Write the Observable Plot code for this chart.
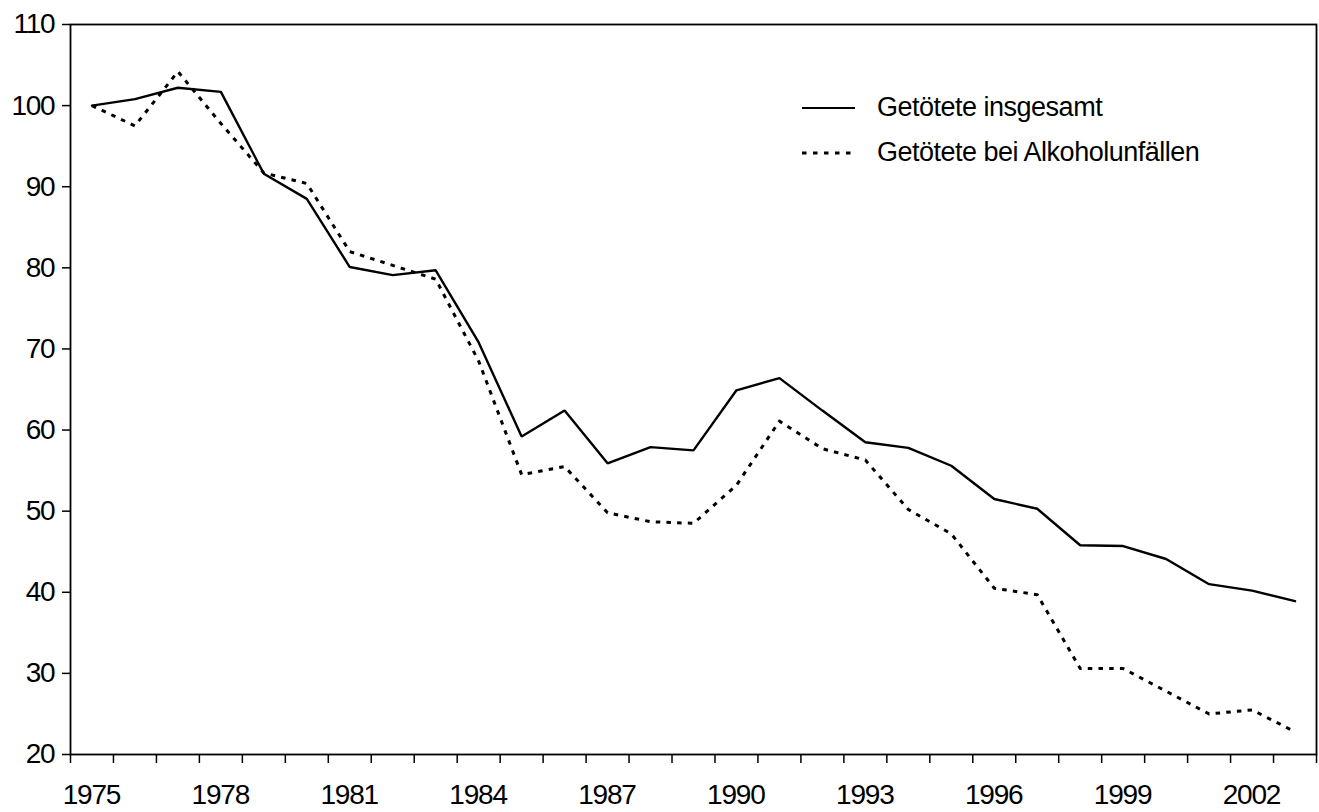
<!DOCTYPE html>
<html><head><meta charset="utf-8">
<script src="https://cdn.jsdelivr.net/npm/d3@7"></script>
<script src="https://cdn.jsdelivr.net/npm/@observablehq/plot@0.6"></script>
<style>
html,body{margin:0;padding:0;background:#fff;}
#wrap{position:relative;width:1319px;height:812px;font-family:"Liberation Sans",Arial,sans-serif;color:#000;}
#wrap svg text{letter-spacing:-1.2px;}
.legend{position:absolute;left:802px;top:85px;font-size:27px;letter-spacing:-0.5px;line-height:45px;}
.legend .row{display:flex;align-items:center;height:45px;white-space:nowrap;}
.legend svg{width:75px;height:10px;flex:none;}
</style></head><body><div id="wrap"></div>
<script>
const years = [1975,1976,1977,1978,1979,1980,1981,1982,1983,1984,1985,1986,1987,1988,1989,1990,1991,1992,1993,1994,1995,1996,1997,1998,1999,2000,2001,2002,2003];
const totalKilled = [100,100.8,102.2,101.7,91.6,88.5,80.1,79.1,79.7,70.8,59.2,62.4,55.9,57.9,57.5,64.9,66.4,62.4,58.5,57.8,55.6,51.5,50.3,45.8,45.7,44.1,41.0,40.2,38.9];
const alcoholKilled = [100,97.5,104.2,97.8,91.7,90.4,82.0,80.3,78.6,68.5,54.5,55.5,49.8,48.7,48.5,53.2,61.1,57.7,56.3,50.2,47.2,40.5,39.7,30.6,30.6,27.8,25.0,25.5,22.8];
const seriesNames = ["Getötete insgesamt","Getötete bei Alkoholunfällen"];
const yTicks = [20,30,40,50,60,70,80,90,100,110];
const xLabelYears = [1975,1978,1981,1984,1987,1990,1993,1996,1999,2002];

const rows = [];
years.forEach((yr,i)=>{
  rows.push({year:yr, value:totalKilled[i], series:seriesNames[0]});
  rows.push({year:yr, value:alcoholKilled[i], series:seriesNames[1]});
});
const boundaries = years.map(y=>y-0.5).concat([years[years.length-1]+0.5]);

const chart = Plot.plot({
  width:1319, height:812,
  marginLeft:70, marginTop:24, marginRight:3, marginBottom:58,
  style:{fontFamily:'"Liberation Sans",Arial,sans-serif', fontSize:"28px", background:"white", color:"black", overflow:"visible"},
  x:{type:"linear", domain:[years[0]-0.5, years[years.length-1]+0.5]},
  y:{domain:[20,110]},
  marks:[
    Plot.axisY({ticks:yTicks, tickSize:8, tickPadding:8, tickFormat:d=>String(d), strokeWidth:1.5, label:null, fontSize:28}),
    Plot.axisX({ticks:boundaries, tickSize:9, text:null, strokeWidth:1.5, label:null}),
    Plot.axisX({ticks:xLabelYears, tickSize:0, tickPadding:30, tickFormat:d=>String(d), label:null, fontSize:28, dx:-0.6}),
    Plot.line(rows.filter(d=>d.series===seriesNames[0]), {x:"year", y:"value", stroke:"black", strokeWidth:2.4, strokeLinejoin:"miter"}),
    Plot.line(rows.filter(d=>d.series===seriesNames[1]), {x:"year", y:"value", stroke:"black", strokeWidth:3, strokeDasharray:"4.5,6.2", strokeLinecap:"butt"}),
    Plot.frame({stroke:"black", strokeWidth:1.8})
  ]
});
const wrap = document.getElementById("wrap");
wrap.appendChild(chart);

const legend = document.createElement("div");
legend.className = "legend";
const dashes = [null, "4.5,6.5"];
const widths = [2.2, 3];
seriesNames.forEach((name,i)=>{
  const row = document.createElement("div");
  row.className = "row";
  const dash = dashes[i] ? ` stroke-dasharray="${dashes[i]}"` : "";
  row.innerHTML = `<svg viewBox="0 0 75 10"><line x1="0" x2="53" y1="5" y2="5" stroke="black" stroke-width="${widths[i]}"${dash}/></svg><span>${name}</span>`;
  legend.appendChild(row);
});
wrap.appendChild(legend);
</script>
</body></html>
